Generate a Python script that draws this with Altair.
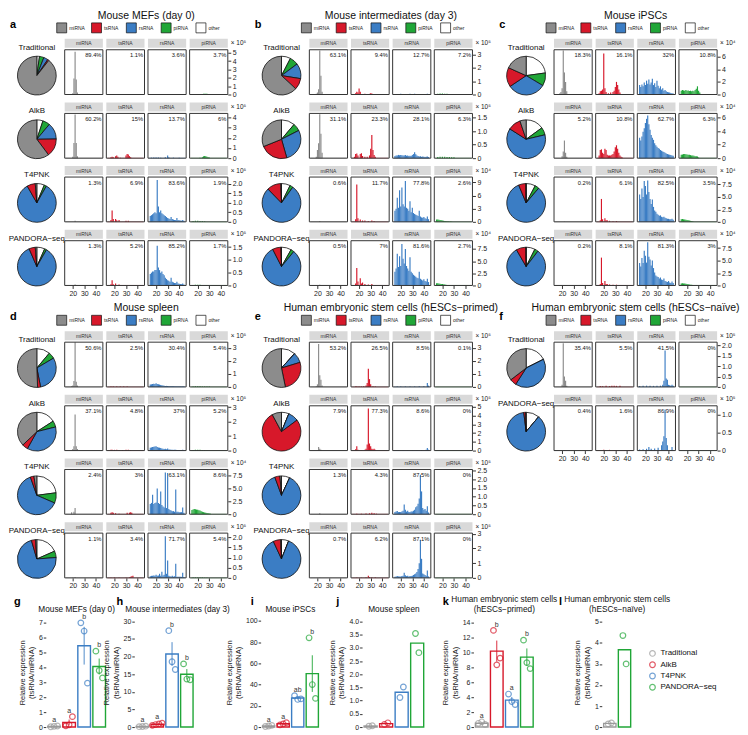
import altair as alt
import pandas as pd

FONT = "Liberation Sans"

RNA_TYPES = ["miRNA", "tsRNA", "rsRNA", "piRNA"]
LEGEND_TYPES = ["miRNA", "tsRNA", "rsRNA", "piRNA", "other"]
PIE_ORDER = ["other", "piRNA", "rsRNA", "tsRNA", "miRNA"]
TYPE_COLOR = {"miRNA": "#8c8c8c", "tsRNA": "#d7182a", "rsRNA": "#3b7dc4",
              "piRNA": "#20a637", "other": "#ffffff"}

PANEL_SETS = [["a", "b", "c"], ["d", "e", "f"]]
TITLES = {
    "a": "Mouse MEFs (day 0)",
    "b": "Mouse intermediates (day 3)",
    "c": "Mouse iPSCs",
    "d": "Mouse spleen",
    "e": "Human embryonic stem cells (hESCs−primed)",
    "f": "Human embryonic stem cells (hESCs−naïve)",
}
METHODS4 = ["Traditional", "AlkB", "T4PNK", "PANDORA−seq"]
METHODS = {"a": METHODS4, "b": METHODS4, "c": METHODS4, "d": METHODS4, "e": METHODS4,
           "f": ["Traditional", "PANDORA−seq"]}

# percentages (miRNA, tsRNA, rsRNA, piRNA) per method row
PCT = {
    "a": [[89.4, 1.1, 3.6, 3.7], [60.2, 15, 13.7, 6], [1.3, 6.9, 83.6, 1.9], [1.3, 5.2, 85.2, 1.7]],
    "b": [[63.1, 9.4, 12.7, 7.2], [31.1, 23.3, 28.1, 6.3], [0.6, 11.7, 77.8, 2.6], [0.5, 7, 81.6, 2.7]],
    "c": [[18.3, 16.1, 32, 10.8], [5.2, 10.8, 62.7, 6.3], [0.2, 6.1, 82.5, 3.5], [0.2, 8.1, 81.3, 3]],
    "d": [[50.6, 2.5, 30.4, 5.4], [37.1, 4.8, 37, 5.2], [2.4, 3, 63.1, 8.6], [1.1, 3.4, 71.7, 5.4]],
    "e": [[53.2, 26.5, 8.5, 0.1], [7.9, 77.3, 8.6, 0], [1.3, 4.3, 87.5, 0], [0.7, 6.2, 87.1, 0]],
    "f": [[35.4, 5.5, 41.5, 0], [0.4, 1.6, 86.9, 0]],
}
EXPONENT = {"a": [5, 5, 5, 5], "b": [5, 5, 4, 4], "c": [4, 4, 4, 4], "d": [5, 5, 4, 5],
            "e": [5, 5, 5, 5], "f": [5, 5]}
YMAX = {"a": [5.35, 4.4, 2.35, 1.75], "b": [3.35, 1.65, 10.2, 9.2], "c": [7.1, 6.6, 9.0, 9.0],
        "d": [3.45, 3.1, 8.7, 2.2], "e": [3.45, 5.1, 2.55, 3.05], "f": [2.15, 1.25]}
YTICKS = {
    "a": [[0, 1, 2, 3, 4, 5], [0, 1, 2, 3, 4], [0, 0.5, 1, 1.5, 2], [0, 0.5, 1, 1.5]],
    "b": [[0, 1, 2, 3], [0, 0.5, 1, 1.5], [0, 3, 6, 9], [0, 2.5, 5, 7.5]],
    "c": [[0, 2, 4, 6], [0, 2, 4, 6], [0, 2.5, 5, 7.5], [0, 2.5, 5, 7.5]],
    "d": [[0, 1, 2, 3], [0, 1, 2, 3], [0, 2.5, 5, 7.5], [0, 0.5, 1, 1.5, 2]],
    "e": [[0, 1, 2, 3], [0, 1, 2, 3, 4, 5], [0, 0.5, 1, 1.5, 2, 2.5], [0, 1, 2, 3]],
    "f": [[0, 0.5, 1, 1.5, 2], [0, 0.5, 1]],
}

# read length (nt) -> reads (in units of 10^exponent), per panel / row / RNA type
HIST = {
    "a": [
        [{19: 0.05, 20: 0.15, 21: 1.9, 22: 5.1, 23: 1.8, 24: 0.25, 25: 0.05},
         {17: 0.03, 18: 0.04, 19: 0.03, 30: 0.04, 31: 0.05, 32: 0.04, 33: 0.03},
         {18: 0.04, 20: 0.05, 22: 0.04, 25: 0.04, 30: 0.05, 34: 0.04, 40: 0.03},
         {24: 0.06, 25: 0.09, 26: 0.1, 27: 0.1, 28: 0.08, 29: 0.06, 30: 0.05, 31: 0.03}],
        [{20: 0.15, 21: 1.5, 22: 4.3, 23: 1.5, 24: 0.2},
         {17: 0.1, 18: 0.15, 19: 0.1, 21: 0.2, 22: 0.25, 23: 0.15, 25: 0.05, 30: 0.25, 31: 0.4, 32: 0.35, 33: 0.2, 34: 0.1},
         {16: 0.05, 18: 0.06, 20: 0.07, 22: 0.06, 24: 0.05, 28: 0.08, 30: 0.25, 31: 0.1, 35: 0.05, 40: 0.04},
         {22: 0.05, 24: 0.1, 25: 0.18, 26: 0.22, 27: 0.2, 28: 0.15, 29: 0.1, 30: 0.06}],
        [{22: 0.05},
         {17: 0.1, 18: 0.6, 19: 0.15, 21: 0.15, 22: 0.08, 24: 0.1, 30: 0.05, 32: 0.05},
         {15: 0.3, 16: 0.35, 17: 0.4, 18: 0.45, 19: 0.5, 20: 0.45, 21: 2.2, 22: 0.8, 23: 0.5, 24: 0.6, 25: 0.45,
          26: 0.4, 27: 0.35, 28: 0.3, 29: 0.25, 30: 0.2, 31: 0.18, 32: 0.15, 33: 0.25, 34: 0.15, 35: 0.12,
          36: 0.1, 37: 0.1, 38: 0.2, 39: 0.1, 40: 0.08, 41: 0.07, 42: 0.06, 43: 0.1, 44: 0.05},
         {16: 0.04, 18: 0.05, 20: 0.05, 22: 0.04, 24: 0.04, 26: 0.03}],
        [{22: 0.04},
         {17: 0.05, 18: 0.2, 19: 0.05, 21: 0.08, 24: 0.04},
         {15: 0.45, 16: 0.5, 17: 0.55, 18: 0.55, 19: 0.6, 20: 0.6, 21: 1.55, 22: 0.7, 23: 0.6, 24: 0.5, 25: 0.55,
          26: 0.45, 27: 0.4, 28: 0.3, 29: 0.25, 30: 0.2, 31: 0.18, 32: 0.15, 33: 0.3, 34: 0.15, 35: 0.12,
          36: 0.1, 37: 0.1, 38: 0.15, 39: 0.08, 40: 0.07, 41: 0.06, 42: 0.05, 43: 0.08, 44: 0.04},
         {18: 0.03, 20: 0.03, 22: 0.03}],
    ],
    "b": [
        [{19: 0.05, 20: 0.15, 21: 0.4, 22: 3.3, 23: 1.4, 24: 0.2},
         {17: 0.1, 18: 0.2, 19: 0.15, 20: 0.45, 21: 0.2, 25: 0.05, 29: 0.05, 30: 0.1, 31: 0.08},
         {16: 0.04, 20: 0.05, 24: 0.04, 28: 0.06, 32: 0.05, 36: 0.04, 40: 0.04, 43: 0.05},
         {16: 0.05, 18: 0.08, 20: 0.07, 22: 0.06, 24: 0.05, 26: 0.04, 28: 0.03}],
        [{19: 0.05, 20: 0.3, 21: 0.55, 22: 1.62, 23: 0.9, 24: 0.2},
         {16: 0.05, 17: 0.15, 18: 0.17, 19: 0.1, 21: 0.15, 22: 0.18, 23: 0.08, 25: 0.05, 27: 0.05, 29: 0.1,
          30: 0.35, 31: 0.85, 32: 0.3, 33: 0.12, 34: 0.05},
         {15: 0.08, 16: 0.1, 17: 0.1, 18: 0.12, 19: 0.11, 20: 0.12, 21: 0.11, 22: 0.1, 23: 0.1, 24: 0.12,
          25: 0.09, 26: 0.1, 27: 0.08, 28: 0.09, 29: 0.08, 30: 0.12, 31: 0.15, 32: 0.22, 33: 0.14, 34: 0.1,
          35: 0.08, 36: 0.06, 37: 0.07, 38: 0.05, 39: 0.06, 40: 0.05, 41: 0.04, 42: 0.05, 43: 0.06, 44: 0.04},
         {16: 0.04, 18: 0.05, 20: 0.05, 22: 0.05, 24: 0.04, 26: 0.04, 28: 0.03, 30: 0.03}],
        [{22: 0.2},
         {17: 0.6, 18: 8.5, 19: 0.8, 21: 0.5, 23: 0.3, 25: 0.3, 28: 0.2, 31: 0.3, 33: 0.2},
         {15: 2.5, 16: 3.0, 17: 5.5, 18: 3.2, 19: 7.2, 20: 3.5, 21: 7.8, 22: 4.0, 23: 3.5, 24: 9.3, 25: 3.2,
          26: 3.0, 27: 2.5, 28: 4.7, 29: 2.2, 30: 3.2, 31: 2.0, 32: 1.8, 33: 1.6, 34: 1.5, 35: 1.3, 36: 2.5,
          37: 1.2, 38: 1.0, 39: 0.9, 40: 1.1, 41: 0.8, 42: 0.7, 43: 1.2, 44: 0.6},
         {15: 0.5, 16: 0.5, 17: 0.45, 18: 0.4, 19: 0.35, 20: 0.3, 21: 0.25, 22: 0.2, 23: 0.18, 24: 0.15,
          25: 0.12, 26: 0.1, 27: 0.08, 28: 0.06}],
        [{22: 0.15},
         {17: 0.4, 18: 3.6, 19: 0.8, 21: 1.5, 22: 0.4, 23: 0.6, 25: 0.3, 28: 0.2, 31: 0.3},
         {15: 2.8, 16: 3.5, 17: 6.5, 18: 3.8, 19: 6.0, 20: 4.0, 21: 8.5, 22: 5.5, 23: 4.5, 24: 7.5, 25: 4.0,
          26: 3.5, 27: 3.0, 28: 5.8, 29: 2.8, 30: 2.5, 31: 2.2, 32: 2.0, 33: 1.8, 34: 1.6, 35: 1.5, 36: 2.8,
          37: 1.4, 38: 1.2, 39: 1.0, 40: 1.3, 41: 0.9, 42: 0.8, 43: 1.4, 44: 0.7},
         {15: 0.45, 16: 0.45, 17: 0.4, 18: 0.35, 19: 0.3, 20: 0.28, 21: 0.22, 22: 0.18, 23: 0.15, 24: 0.12,
          25: 0.1, 26: 0.08}],
    ],
    "c": [
        [{18: 0.2, 19: 0.4, 20: 1.0, 21: 7.0, 22: 3.5, 23: 2.0, 24: 0.5, 25: 0.1},
         {16: 0.2, 17: 0.5, 18: 0.6, 19: 0.8, 20: 6.5, 21: 1.0, 22: 0.4, 24: 0.2, 26: 0.3, 28: 0.4, 29: 0.6,
          30: 1.2, 31: 2.0, 32: 1.5, 33: 0.8, 34: 0.3, 36: 0.1},
         {15: 1.5, 16: 1.2, 17: 1.6, 18: 1.3, 19: 1.9, 20: 1.5, 21: 2.2, 22: 1.7, 23: 2.4, 24: 1.6, 25: 1.9,
          26: 2.5, 27: 1.5, 28: 1.8, 29: 1.2, 30: 2.2, 31: 1.4, 32: 1.0, 33: 1.3, 34: 0.8, 35: 1.0, 36: 0.6,
          37: 0.7, 38: 0.5, 39: 0.4, 40: 0.35, 41: 0.3, 42: 0.25, 43: 0.2, 44: 0.15},
         {15: 0.6, 16: 0.7, 17: 0.65, 18: 0.6, 19: 0.7, 20: 0.6, 21: 0.65, 22: 0.55, 23: 0.6, 24: 0.5, 25: 0.6,
          26: 0.5, 27: 0.7, 28: 0.9, 29: 1.3, 30: 0.6, 31: 0.3, 32: 0.1}],
        [{20: 0.3, 21: 1.0, 22: 2.6, 23: 0.8, 24: 0.2},
         {16: 0.4, 17: 1.2, 18: 1.3, 19: 0.8, 20: 0.6, 21: 1.4, 22: 1.2, 23: 0.5, 24: 0.4, 25: 0.4, 26: 0.4,
          27: 0.5, 28: 0.6, 29: 1.0, 30: 1.6, 31: 1.9, 32: 1.4, 33: 0.8, 34: 0.4, 35: 0.2, 36: 0.1},
         {15: 3.0, 16: 2.6, 17: 3.2, 18: 3.9, 19: 4.4, 20: 5.2, 21: 5.8, 22: 6.3, 23: 5.0, 24: 4.2, 25: 3.4,
          26: 3.0, 27: 2.7, 28: 2.2, 29: 1.9, 30: 1.7, 31: 1.5, 32: 1.4, 33: 1.2, 34: 1.1, 35: 1.0, 36: 0.9,
          37: 0.8, 38: 0.7, 39: 0.6, 40: 0.55, 41: 0.5, 42: 0.45, 43: 0.4, 44: 0.35},
         {15: 0.5, 16: 0.55, 17: 0.6, 18: 0.6, 19: 0.58, 20: 0.55, 21: 0.5, 22: 0.5, 23: 0.45, 24: 0.4,
          25: 0.38, 26: 0.35, 27: 0.3, 28: 0.3, 29: 0.25, 30: 0.1}],
        [{22: 0.05},
         {17: 0.3, 18: 4.6, 19: 0.5, 21: 0.7, 22: 0.3, 23: 0.3, 25: 0.2, 28: 0.1, 31: 0.15},
         {15: 5.5, 16: 4.6, 17: 6.7, 18: 5.0, 19: 8.2, 20: 7.2, 21: 5.5, 22: 8.3, 23: 6.0, 24: 4.6, 25: 3.6,
          26: 4.5, 27: 3.0, 28: 2.3, 29: 2.0, 30: 1.6, 31: 1.4, 32: 1.2, 33: 1.3, 34: 1.0, 35: 0.9, 36: 1.0,
          37: 0.8, 38: 0.7, 39: 0.6, 40: 0.6, 41: 0.5, 42: 0.5, 43: 0.6, 44: 0.4},
         {15: 0.5, 16: 0.55, 17: 0.5, 18: 0.45, 19: 0.4, 20: 0.35, 21: 0.3, 22: 0.25, 23: 0.2, 24: 0.15, 25: 0.1}],
        [{22: 0.05},
         {17: 0.3, 18: 5.6, 19: 0.5, 21: 0.9, 22: 0.3, 23: 0.3, 25: 0.2, 28: 0.15, 31: 0.15},
         {15: 4.5, 16: 3.8, 17: 5.5, 18: 4.5, 19: 7.0, 20: 6.0, 21: 4.6, 22: 8.7, 23: 5.8, 24: 5.2, 25: 4.0,
          26: 5.0, 27: 3.5, 28: 2.6, 29: 2.0, 30: 1.8, 31: 1.7, 32: 1.4, 33: 1.6, 34: 1.2, 35: 1.1, 36: 1.4,
          37: 0.9, 38: 0.8, 39: 0.7, 40: 0.9, 41: 0.6, 42: 0.5, 43: 0.8, 44: 0.5},
         {15: 0.4, 16: 0.45, 17: 0.4, 18: 0.38, 19: 0.35, 20: 0.3, 21: 0.25, 22: 0.2, 23: 0.15, 24: 0.12, 25: 0.1}],
    ],
    "d": [
        [{19: 0.05, 20: 0.1, 21: 0.45, 22: 3.45, 23: 0.4, 24: 0.1},
         {17: 0.03, 19: 0.03, 22: 0.03, 25: 0.03, 28: 0.03, 31: 0.03},
         {15: 0.18, 16: 0.2, 17: 0.22, 18: 0.24, 19: 0.22, 20: 0.28, 21: 0.22, 22: 0.2, 23: 0.18, 24: 0.15,
          25: 0.12, 26: 0.1, 27: 0.09, 28: 0.08, 29: 0.08, 30: 0.07, 31: 0.06, 32: 0.06, 33: 0.05, 34: 0.05,
          35: 0.05, 36: 0.04, 37: 0.04, 38: 0.04, 39: 0.03, 40: 0.03, 41: 0.03, 42: 0.03, 43: 0.03, 44: 0.03},
         {16: 0.04, 18: 0.05, 20: 0.05, 22: 0.05, 24: 0.04, 26: 0.04, 28: 0.03, 30: 0.03}],
        [{20: 0.1, 21: 0.3, 22: 2.5, 23: 0.3, 24: 0.1},
         {17: 0.05, 18: 0.06, 20: 0.05, 22: 0.05, 24: 0.04, 27: 0.04, 30: 0.05, 32: 0.05, 34: 0.04},
         {15: 0.2, 16: 0.22, 17: 0.25, 18: 0.26, 19: 0.28, 20: 0.3, 21: 0.25, 22: 0.22, 23: 0.2, 24: 0.17,
          25: 0.14, 26: 0.12, 27: 0.1, 28: 0.12, 29: 0.09, 30: 0.14, 31: 0.08, 32: 0.07, 33: 0.06, 34: 0.06,
          35: 0.05, 36: 0.05, 37: 0.06, 38: 0.04, 39: 0.04, 40: 0.04, 41: 0.04, 42: 0.04, 43: 0.05, 44: 0.03},
         {16: 0.04, 18: 0.05, 20: 0.05, 22: 0.05, 24: 0.04, 26: 0.04, 28: 0.03}],
        [{19: 0.4, 21: 0.5, 22: 1.2},
         {17: 0.3, 18: 0.4, 19: 0.3, 21: 0.2, 24: 0.1, 31: 0.3, 33: 0.3, 34: 0.4, 35: 0.3},
         {15: 2.0, 16: 2.2, 17: 3.8, 18: 2.0, 19: 2.2, 20: 2.3, 21: 5.0, 22: 2.2, 23: 2.0, 24: 4.4, 25: 1.8,
          26: 1.5, 27: 1.3, 28: 8.1, 29: 1.2, 30: 8.0, 31: 1.0, 32: 0.8, 33: 0.7, 34: 0.6, 35: 0.6, 36: 0.5,
          37: 4.8, 38: 0.5, 39: 0.5, 40: 0.4, 41: 0.4, 42: 0.4, 43: 1.3, 44: 0.3},
         {15: 0.8, 16: 0.9, 17: 1.0, 18: 0.95, 19: 0.9, 20: 0.85, 21: 0.75, 22: 0.7, 23: 0.6, 24: 0.5,
          25: 0.4, 26: 0.35, 27: 0.3, 28: 0.25, 29: 0.2, 30: 0.15, 31: 0.1}],
        [{20: 0.02, 22: 0.04},
         {17: 0.02, 20: 0.02, 24: 0.02, 30: 0.02, 33: 0.03, 34: 0.05, 35: 0.08, 36: 0.1},
         {15: 0.08, 16: 0.1, 17: 0.1, 18: 0.12, 19: 0.1, 20: 0.15, 21: 0.1, 22: 0.12, 23: 0.2, 24: 0.1,
          25: 0.3, 26: 0.12, 27: 0.15, 28: 2.05, 29: 0.2, 30: 0.85, 31: 0.1, 32: 0.08, 33: 0.07, 34: 0.1,
          35: 0.06, 36: 0.08, 37: 0.7, 38: 0.06, 39: 0.05, 40: 0.05, 41: 0.05, 42: 0.05, 43: 0.25, 44: 0.04},
         {16: 0.03, 18: 0.03, 20: 0.03, 22: 0.03, 24: 0.03, 26: 0.02, 28: 0.02}],
    ],
    "e": [
        [{19: 0.05, 20: 0.2, 21: 3.3, 22: 0.9, 23: 0.55, 24: 0.1},
         {17: 0.03, 18: 0.04, 20: 0.03, 22: 0.04, 24: 0.05, 26: 0.1, 27: 0.3, 28: 1.4, 29: 0.6, 30: 0.2,
          32: 0.05, 34: 0.04},
         {17: 0.03, 20: 0.03, 24: 0.03, 28: 0.03, 32: 0.03, 36: 0.05, 40: 0.05, 43: 0.3, 44: 0.1},
         {}],
        [{21: 0.4, 22: 0.2, 23: 0.08},
         {17: 0.15, 18: 0.5, 19: 0.1, 22: 0.05, 25: 0.1, 26: 0.2, 27: 0.7, 28: 4.8, 29: 0.8, 30: 0.5,
          31: 0.2, 32: 0.15, 33: 0.2, 34: 0.08},
         {18: 0.03, 22: 0.03, 26: 0.03, 30: 0.04, 34: 0.04, 38: 0.05, 42: 0.1, 43: 0.3, 44: 0.1},
         {}],
        [{22: 0.05},
         {18: 0.03, 22: 0.03, 26: 0.04, 29: 0.05, 31: 0.08, 33: 0.05, 35: 0.03},
         {15: 0.12, 16: 0.15, 17: 0.18, 18: 0.12, 19: 0.12, 20: 0.13, 21: 0.15, 22: 0.2, 23: 0.55, 24: 0.25,
          25: 0.15, 26: 0.2, 27: 0.12, 28: 0.12, 29: 0.15, 30: 0.15, 31: 0.2, 32: 0.25, 33: 0.4, 34: 0.45,
          35: 0.6, 36: 0.9, 37: 2.25, 38: 1.3, 39: 0.35, 40: 0.25, 41: 0.3, 42: 0.2, 43: 0.45, 44: 0.1},
         {}],
        [{22: 0.03},
         {18: 0.03, 22: 0.03, 26: 0.05, 28: 0.15, 29: 0.06, 31: 0.05, 34: 0.04},
         {15: 0.08, 16: 0.1, 17: 0.12, 18: 0.1, 19: 0.1, 20: 0.1, 21: 0.12, 22: 0.15, 23: 0.35, 24: 0.18,
          25: 0.12, 26: 0.15, 27: 0.1, 28: 0.12, 29: 0.12, 30: 0.15, 31: 0.2, 32: 0.25, 33: 0.3, 34: 0.4,
          35: 0.6, 36: 1.0, 37: 2.6, 38: 1.3, 39: 0.3, 40: 0.25, 41: 0.2, 42: 0.15, 43: 0.5, 44: 0.1},
         {}],
    ],
    "f": [
        [{20: 0.1, 21: 2.1, 22: 0.5, 23: 0.3, 24: 0.05},
         {17: 0.04, 19: 0.03, 22: 0.05, 25: 0.04, 27: 0.05, 29: 0.06, 31: 0.05, 34: 0.05},
         {15: 0.04, 18: 0.05, 21: 0.06, 24: 0.05, 27: 0.05, 30: 0.06, 33: 0.06, 35: 0.1, 36: 0.3, 37: 1.75,
          38: 0.4, 39: 0.35, 40: 0.1, 41: 0.08, 42: 0.06, 43: 0.1, 44: 0.05},
         {}],
        [{22: 0.01},
         {20: 0.02, 25: 0.02},
         {15: 0.03, 18: 0.04, 21: 0.05, 23: 0.1, 25: 0.05, 28: 0.06, 31: 0.08, 34: 0.15, 35: 0.25, 36: 0.4,
          37: 1.15, 38: 0.35, 39: 0.15, 43: 0.1},
         {}],
    ],
}

# bottom row (g-l): relative expression tsRNA/miRNA, individual replicates
BOT_KEYS = ["g", "h", "i", "j", "k", "l"]
BOT_TITLES = {
    "g": ["Mouse MEFs (day 0)"],
    "h": ["Mouse intermediates (day 3)"],
    "i": ["Mouse iPSCs"],
    "j": ["Mouse spleen"],
    "k": ["Human embryonic stem cells", "(hESCs−primed)"],
    "l": ["Human embryonic stem cells", "(hESCs−naïve)"],
}
BOT_METHODS = {"g": METHODS4, "h": METHODS4, "i": METHODS4, "j": METHODS4, "k": METHODS4,
               "l": ["Traditional", "PANDORA−seq"]}
BOT_POINTS = {
    "g": [[0.02, 0.05, 0.07], [0.08, 0.15, 0.7], [7.0, 6.45, 2.95], [5.1, 3.8, 3.3]],
    "h": [[0.1, 0.15, 0.25], [0.5, 0.7, 0.9, 1.1], [27.3, 18.5, 16.3], [17.9, 13.6, 13.4]],
    "i": [[0.5, 1.0, 1.6], [2.0, 3.0, 4.2], [29.5, 26.0, 26.5], [84.0, 40.0, 27.0]],
    "j": [[0.03, 0.05], [0.1, 0.16], [1.12, 1.52], [3.55, 2.82]],
    "k": [[0.5, 0.7, 0.35], [12.9, 8.3, 9.2], [4.4, 3.4, 3.0], [11.6, 8.6, 7.8]],
    "l": [[0.15, 0.2], [4.35, 3.0]],
}
BOT_LETTERS = {"g": ["a", "a", "b", "b"], "h": ["a", "a", "b", "b"], "i": ["a", "a", "ab", "b"],
               "j": ["", "", "", ""], "k": ["a", "b", "a", "b"], "l": ["", ""]}
BOT_TICKS = {"g": [0, 1, 2, 3, 4, 5, 6, 7], "h": [0, 5, 10, 15, 20, 25, 30],
             "i": [0, 20, 40, 60, 80, 100], "j": [0, 0.5, 1, 1.5, 2, 2.5, 3, 3.5, 4],
             "k": [0, 2, 4, 6, 8, 10, 12, 14], "l": [0, 1, 2, 3, 4, 5]}
BOT_YMAX = {"g": 7.35, "h": 31, "i": 103, "j": 4.15, "k": 14.6, "l": 5.2}
METHOD_COLOR = {"Traditional": "#9a9a9a", "AlkB": "#d7182a", "T4PNK": "#3b7dc4", "PANDORA−seq": "#20a637"}

# ---------------- layout constants (styling) ----------------
D = 36            # offset between facet x ranges (data units)
XL, XR = 13, 46   # facet x range
HW, HH = 164, 45  # histogram block size
PIE_W = 28        # pie column width (pie overflows into column gap)
COL_GAP = 27
ROW_GAP = 19
HEAD_H = 19
SUP = {3: "³", 4: "⁴", 5: "⁵"}
BOT_W = {"g": 62, "h": 61, "i": 60, "j": 64, "k": 62, "l": 31}
BOT_GAPS = [27, 66, 42, 48, 67, 16]
BOT_LEFT = 36
BOT_H = 110       # plot height
BOT_TOP = 26      # room above plot for titles (inside the view)
BOT_LETTER_DX = {"g": -32, "h": -18, "i": -10, "j": -26, "k": -31, "l": -43}
BOT_TITLE_DX = {"g": 0, "h": 13, "i": 0, "j": 0, "k": 0, "l": 0}


def tick_label_expr(ticks):
    if all(float(t).is_integer() for t in ticks):
        return "format(datum.value, 'd')"
    return "datum.value == 0 ? '0' : format(datum.value, '.1f')"


def fmt_pct(v):
    return f"{v:g}%"


def empty_view(w, h):
    return alt.Chart(pd.DataFrame({"a": [0]})).mark_point(opacity=0).encode(
        x=alt.value(1), y=alt.value(1)).properties(width=w, height=h)


def hist_view(p, r, last):
    ymax = YMAX[p][r]
    ticks = YTICKS[p][r]
    bars = []
    for k, t in enumerate(RNA_TYPES):
        for L, v in HIST[p][r][k].items():
            bars.append({"x0": L - 0.5 + k * D, "x1": L + 0.5 + k * D, "v": v, "z": 0,
                         "col": TYPE_COLOR[t]})
    bars_df = pd.DataFrame(bars)
    facets = pd.DataFrame({
        "x0": [XL + k * D for k in range(4)],
        "x1": [XR + k * D for k in range(4)],
        "xc": [(XL + XR) / 2 + k * D for k in range(4)],
        "xr": [XR - 1.2 + k * D for k in range(4)],
        "b0": [XL + 1 + k * D for k in range(4)],
        "b1": [XR - 1 + k * D for k in range(4)],
        "z": [0, 0, 0, 0],
        "lab": RNA_TYPES,
        "pct": [fmt_pct(v) for v in PCT[p][r]],
        "col": [TYPE_COLOR[t] for t in RNA_TYPES],
    })
    xscale = alt.Scale(domain=[XL, 3 * D + XR], nice=False, zero=False)
    if last:
        xaxis = alt.Axis(values=[v + k * D for k in range(4) for v in (20, 30, 40)],
                         labelExpr=f"datum.value - {D}*floor((datum.value-10)/{D})",
                         title=None, grid=False, domain=False, tickSize=3, tickColor="#333",
                         labelFontSize=7, labelColor="#222", labelPadding=1,
                         labelFlush=False, labelOverlap=False)
    else:
        xaxis = None
    yscale = alt.Scale(domain=[0, ymax], nice=False, zero=True)
    yaxis = alt.Axis(orient="right", values=ticks, labelExpr=tick_label_expr(ticks), title=None,
                     grid=False, domain=False, tickSize=3, tickColor="#333", labelFontSize=7,
                     labelColor="#222", labelPadding=1.5, labelFlush=False, labelOverlap=False)

    def X(f):
        return alt.X(f"{f}:Q", scale=xscale, axis=xaxis)

    strip = alt.Chart(facets).mark_rect(fill="#d9d9d9").encode(
        x=X("x0"), x2="x1", y=alt.value(-11), y2=alt.value(-2))
    strip_txt = alt.Chart(facets).mark_text(fontSize=5, color="#333").encode(
        x=X("xc"), y=alt.value(-6.5), text="lab:N")
    base = alt.Chart(facets).mark_rule(strokeWidth=1, opacity=0.35).encode(
        x=X("b0"), x2="b1", y=alt.Y("z:Q", scale=yscale, axis=yaxis),
        color=alt.Color("col:N", scale=None))
    barl = alt.Chart(bars_df).mark_rect().encode(
        x=X("x0"), x2="x1", y=alt.Y("v:Q", scale=yscale, axis=yaxis), y2="z:Q",
        color=alt.Color("col:N", scale=None))
    border = alt.Chart(facets).mark_rect(fill="white", fillOpacity=0, stroke="#333",
                                         strokeWidth=1).encode(
        x=X("x0"), x2="x1", y=alt.value(0), y2=alt.value(HH))
    pct = alt.Chart(facets).mark_text(align="right", fontSize=5.8, color="#111").encode(
        x=X("xr"), y=alt.value(5.5), text="pct:N")
    expo = alt.Chart(pd.DataFrame({"e": [f"× 10{SUP[EXPONENT[p][r]]}"]})).mark_text(
        align="left", fontSize=6.5, color="#222").encode(
        x=alt.value(HW + 3), y=alt.value(-6.5), text="e:N")
    return alt.layer(strip, strip_txt, base, barl, border, pct, expo).properties(width=HW, height=HH)


def pie_view(p, r):
    pct = PCT[p][r]
    vals = dict(zip(RNA_TYPES, pct))
    vals["other"] = max(0.0, round(100 - sum(pct), 2))
    df = pd.DataFrame({"type": PIE_ORDER, "v": [vals[t] for t in PIE_ORDER],
                       "o": list(range(5)), "col": [TYPE_COLOR[t] for t in PIE_ORDER]})
    arc = alt.Chart(df).mark_arc(radius=19.5, stroke="#111", strokeWidth=0.8).encode(
        theta=alt.Theta("v:Q", stack=True), order=alt.Order("o:Q"),
        color=alt.Color("col:N", scale=None), x=alt.value(27), y=alt.value(26))
    lab = alt.Chart(pd.DataFrame({"m": [METHODS[p][r]]})).mark_text(fontSize=8, color="#111").encode(
        text="m:N", x=alt.value(27), y=alt.value(-2))
    return alt.layer(arc, lab).properties(width=PIE_W, height=HH)


def header_view(p):
    t = alt.Chart(pd.DataFrame({"t": [TITLES[p]]})).mark_text(fontSize=10.5, color="#111").encode(
        text="t:N", x=alt.value(PIE_W + COL_GAP + HW / 2), y=alt.value(4))
    letter = alt.Chart(pd.DataFrame({"t": [p]})).mark_text(
        fontSize=11, fontWeight="bold", align="left", color="#000").encode(
        text="t:N", x=alt.value(0), y=alt.value(13))
    leg = pd.DataFrame({"type": LEGEND_TYPES, "col": [TYPE_COLOR[t] for t in LEGEND_TYPES]})
    lx = alt.X("type:N", scale=alt.Scale(type="point", domain=LEGEND_TYPES, range=[52, 192], padding=0),
               axis=None)
    sq = alt.Chart(leg).mark_square(size=100, stroke="#111", strokeWidth=0.7, opacity=1).encode(
        x=lx, y=alt.value(16), fill=alt.Fill("col:N", scale=None))
    tx = alt.Chart(leg).mark_text(align="left", dx=7.5, fontSize=5, color="#222").encode(
        x=lx, y=alt.value(16), text="type:N")
    return alt.layer(letter, t, sq, tx).properties(width=PIE_W, height=HEAD_H)


def bottom_view(key):
    methods = BOT_METHODS[key]
    n = len(methods)
    ymax = BOT_YMAX[key]
    ticks = BOT_TICKS[key]
    prow, brow = [], []
    for i, (m, vals) in enumerate(zip(methods, BOT_POINTS[key])):
        k = len(vals)
        mean = sum(vals) / k
        sd = (sum((v - mean) ** 2 for v in vals) / (k - 1)) ** 0.5
        se = sd / k ** 0.5
        for j, v in enumerate(vals):
            prow.append({"x": i + (j - (k - 1) / 2) * 0.22, "v": v, "col": METHOD_COLOR[m]})
        top = max(max(vals), mean + se)
        brow.append({"x0": i - 0.42, "x1": i + 0.42, "xc": i, "mean": mean, "lo": mean - se,
                     "hi": mean + se, "z": 0, "col": METHOD_COLOR[m], "let": BOT_LETTERS[key][i],
                     "ly": top + ymax * 0.025, "eb": k >= 3})
    pdf = pd.DataFrame(prow)
    bdf = pd.DataFrame(brow)
    edf = bdf[bdf["eb"]]
    full_h = BOT_H + BOT_TOP
    xscale = alt.Scale(domain=[-0.55, n - 0.45], nice=False, zero=False)
    yscale = alt.Scale(domain=[0, ymax * full_h / BOT_H], nice=False, zero=True)
    yaxis = alt.Axis(values=ticks, labelExpr=tick_label_expr(ticks),
                     title=["Relative expression", "(tsRNA/miRNA)"], titleFontSize=7.5,
                     titleFontWeight="normal", titleColor="#222", titlePadding=3,
                     titleY=BOT_TOP + BOT_H / 2,
                     grid=False, domain=False, tickSize=2.5, tickColor="#333", labelFontSize=7,
                     labelColor="#222", labelPadding=1, labelFlush=False, labelOverlap=False)
    bars = alt.Chart(bdf).mark_rect(fill="white", strokeWidth=1.4).encode(
        x=alt.X("x0:Q", scale=xscale, axis=None), x2="x1",
        y=alt.Y("mean:Q", scale=yscale, axis=yaxis), y2="z:Q",
        stroke=alt.Stroke("col:N", scale=None))
    layers = [bars]
    if len(edf):
        layers.append(alt.Chart(edf).mark_rule(strokeWidth=0.9).encode(
            x=alt.X("xc:Q", scale=xscale, axis=None),
            y=alt.Y("lo:Q", scale=yscale, axis=yaxis), y2="hi:Q",
            color=alt.Color("col:N", scale=None)))
    layers.append(alt.Chart(pdf).mark_point(shape="circle", filled=False, size=32, strokeWidth=1.2).encode(
        x=alt.X("x:Q", scale=xscale, axis=None),
        y=alt.Y("v:Q", scale=yscale, axis=yaxis),
        stroke=alt.Stroke("col:N", scale=None)))
    layers.append(alt.Chart(bdf).mark_text(fontSize=7, baseline="bottom", color="#333").encode(
        x=alt.X("xc:Q", scale=xscale, axis=None),
        y=alt.Y("ly:Q", scale=yscale, axis=yaxis), text="let:N"))
    lines = BOT_TITLES[key]
    tdf = pd.DataFrame({"t": lines,
                        "y": [BOT_TOP - 8 - (len(lines) - 1 - q) * 10 for q in range(len(lines))]})
    layers.append(alt.Chart(tdf).mark_text(fontSize=8.3, color="#111").encode(
        text="t:N", x=alt.value(BOT_W[key] / 2 + BOT_TITLE_DX[key]), y=alt.Y("y:Q", scale=None)))
    layers.append(alt.Chart(pd.DataFrame({"t": [key]})).mark_text(
        fontSize=11, fontWeight="bold", align="left", color="#000").encode(
        text="t:N", x=alt.value(BOT_LETTER_DX[key]), y=alt.value(BOT_TOP - 16)))
    return alt.layer(*layers).properties(width=BOT_W[key], height=full_h)


def bottom_legend():
    leg = pd.DataFrame({"m": METHODS4, "col": [METHOD_COLOR[m] for m in METHODS4]})
    ly = alt.Y("m:N", scale=alt.Scale(type="point", domain=METHODS4,
                                      range=[BOT_TOP + 36, BOT_TOP + 70], padding=0), axis=None)
    pts = alt.Chart(leg).mark_point(shape="circle", filled=False, size=32, strokeWidth=1.2).encode(
        x=alt.value(4), y=ly, stroke=alt.Stroke("col:N", scale=None))
    txt = alt.Chart(leg).mark_text(align="left", fontSize=8, color="#111").encode(
        x=alt.value(12), y=ly, text="m:N")
    return alt.layer(pts, txt).properties(width=80, height=BOT_H + BOT_TOP)


# ---- top grid: columns = (pie, hist) x 3 panels ----
cells = []
for pset in PANEL_SETS:
    for p in pset:
        cells += [header_view(p), empty_view(HW, HEAD_H)]
    for r in range(4):
        for p in pset:
            n = len(METHODS[p])
            if r < n:
                cells += [pie_view(p, r), hist_view(p, r, r == n - 1)]
            else:
                cells += [empty_view(PIE_W, HH), empty_view(HW, HH)]
top = alt.concat(*cells, columns=6, spacing={"row": ROW_GAP, "column": COL_GAP}, bounds="flush")

# ---- bottom row ----
bviews = [empty_view(BOT_LEFT, BOT_H + BOT_TOP)]
for idx, key in enumerate(BOT_KEYS):
    bviews.append(bottom_view(key))
    bviews.append(empty_view(BOT_GAPS[idx], BOT_H + BOT_TOP))
bviews.append(bottom_legend())
bottom = alt.hconcat(*bviews, spacing=0, bounds="flush")

chart = alt.vconcat(top, bottom, spacing=1).properties(
    padding=0, background="white"
).configure_view(stroke=None).configure_text(font=FONT).configure_axis(
    labelFont=FONT, titleFont=FONT).configure_title(font=FONT)

chart.save("out.html", embed_options={"renderer": "svg", "actions": False})
